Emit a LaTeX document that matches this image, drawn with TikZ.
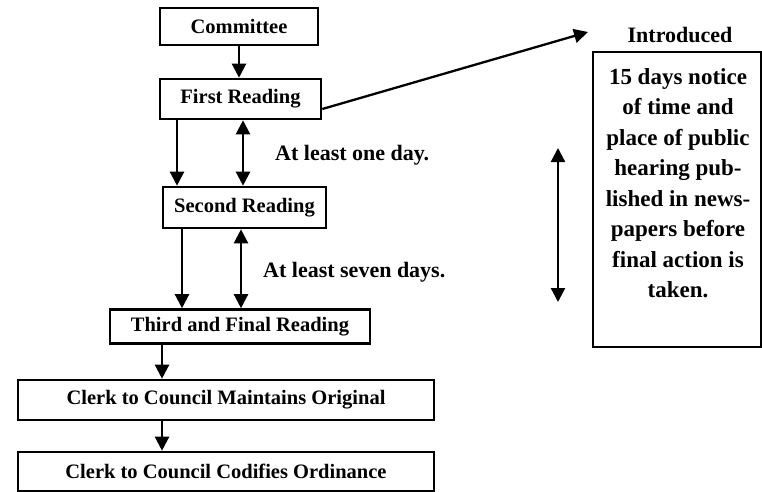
\documentclass[tikz,border=0pt]{standalone}
\usepackage{fontspec}
\setmainfont{Liberation Serif}
\usetikzlibrary{arrows.meta}
\begin{document}
\begin{tikzpicture}[x=1pt,y=-1pt,
  box/.style={draw, line width=2.6pt, inner sep=0pt, font=\fontsize{20.5}{24}\selectfont\bfseries},
  arr/.style={line width=2.3pt, -{Triangle[length=14pt,width=14pt]}},
  darr/.style={line width=2.3pt, {Triangle[length=14pt,width=14pt]}-{Triangle[length=14pt,width=14pt]}},
  lbl/.style={font=\fontsize{22}{26}\selectfont\bfseries, inner sep=0pt}]
\useasboundingbox (0,0) rectangle (762,491);
% boxes
\node[box, minimum width=158pt, minimum height=37pt] (committee) at (239,26.5) {Committee};
\node[box, minimum width=161pt, minimum height=40pt] (first) at (240.5,99) {First Reading};
\node[box, minimum width=163pt, minimum height=41pt] (second) at (244.5,207.5) {Second Reading};
\node[box, minimum width=260pt, minimum height=34pt] (third) at (240,326.5) {Third and Final Reading};
\node[box, minimum width=416pt, minimum height=40pt] (maint) at (226,400) {Clerk to Council Maintains Original};
\node[box, minimum width=416pt, minimum height=39pt] (codif) at (226,471.5) {Clerk to Council Codifies Ordinance};
\node[draw, line width=2.6pt, inner sep=0pt, minimum width=168pt, minimum height=295pt] (notice) at (677,199.5) {};
\node[lbl, align=center, font=\fontsize{23}{30.5}\selectfont\bfseries] (noticetext) at (678,183)
  {15 days notice\\of time and\\place of public\\hearing pub-\\lished in news-\\papers before\\final action is\\taken.};
\node[lbl] (introduced) at (680,35) {Introduced};
\node[lbl, anchor=west] (oneday) at (275,155) {At least one day.};
\node[lbl, anchor=west] (sevendays) at (263,272) {At least seven days.};
% helper coordinates
\coordinate (xa) at (177,0);
\coordinate (xb) at (243,0);
\coordinate (xc) at (182,0);
\coordinate (xd) at (241,0);
\coordinate (xe) at (162,0);
\coordinate (xf) at (239,0);
\coordinate (dstart) at (0,109);
\coordinate (intro) at (588,32);
\coordinate (vt) at (558,148);
\coordinate (vb) at (558,302);
% connectors
\draw[arr] (committee.south -| xf) -- (first.north -| xf);
\draw[arr] (first.south -| xa) -- (second.north -| xa);
\draw[darr] (first.south -| xb) -- (second.north -| xb);
\draw[arr] (second.south -| xc) -- (third.north -| xc);
\draw[darr] (second.south -| xd) -- (third.north -| xd);
\draw[arr] (third.south -| xe) -- (maint.north -| xe);
\draw[arr] (maint.south -| xe) -- (codif.north -| xe);
\draw[arr] (first.east |- dstart) -- (intro);
\draw[darr] (vt) -- (vb);
\end{tikzpicture}
\end{document}
